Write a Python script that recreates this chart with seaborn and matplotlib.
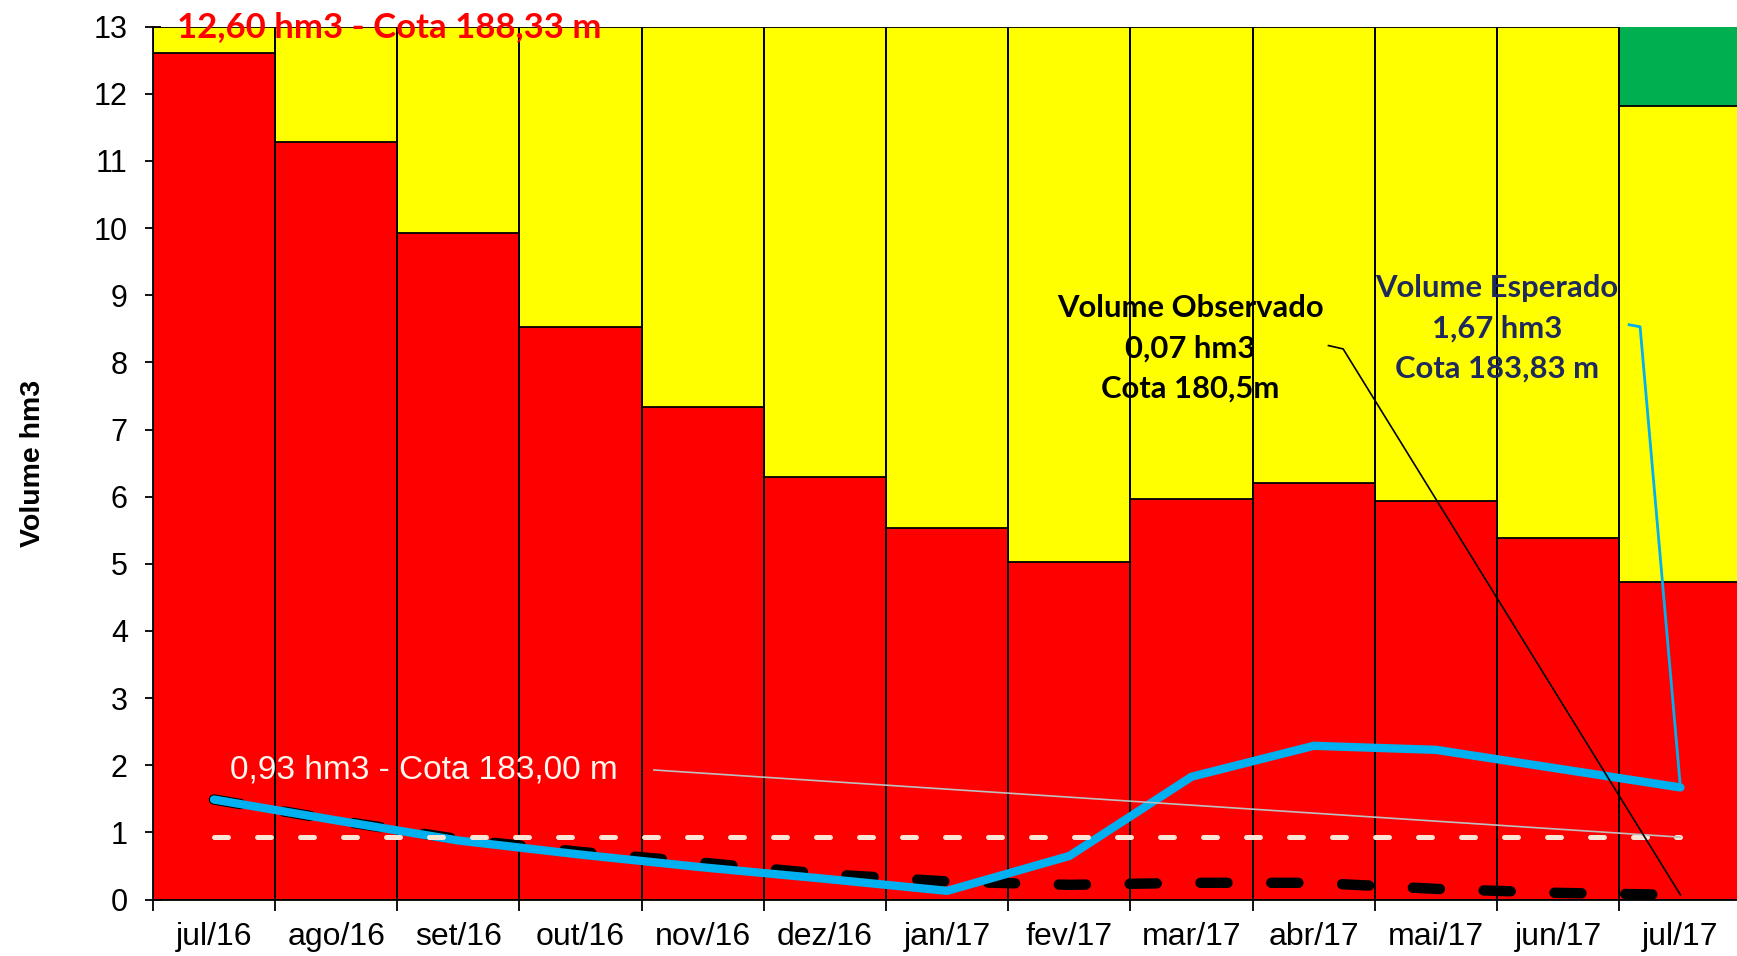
import numpy as np
import matplotlib
matplotlib.use('Agg')
import matplotlib.pyplot as plt
import seaborn as sns

# dados
meses = ['jul/16', 'ago/16', 'set/16', 'out/16', 'nov/16', 'dez/16', 'jan/17',
         'fev/17', 'mar/17', 'abr/17', 'mai/17', 'jun/17', 'jul/17']
faixa_vermelha = [12.60, 11.28, 9.92, 8.52, 7.34, 6.30, 5.54, 5.03, 5.97, 6.21, 5.94, 5.39, 4.73]
faixa_amarela = [13, 13, 13, 13, 13, 13, 13, 13, 13, 13, 13, 13, 11.82]
faixa_verde = [13, 13, 13, 13, 13, 13, 13, 13, 13, 13, 13, 13, 13]
vol_esperado = [1.49, 1.18, 0.88, 0.67, 0.48, 0.31, 0.13, 0.65, 1.83, 2.29, 2.23, 1.95, 1.67]
vol_observado = [1.49, 1.18, 0.90, 0.71, 0.55, 0.38, 0.27, 0.22, 0.25, 0.25, 0.16, 0.10, 0.07]
vol_minimo = 0.93

plt.rcParams['font.family'] = ['Liberation Sans', 'DejaVu Sans']
titulo_font = ['Lato', 'DejaVu Sans']

fig = plt.figure(figsize=(17.37, 9.56), dpi=100)
ax = fig.add_axes([0.088, 0.059, 0.9146, 0.9132])

n = len(meses)
pos = np.arange(n)

sns.barplot(x=meses, y=faixa_verde, color='#00B050', saturation=1, width=1,
            errorbar=None, linewidth=0, ax=ax, zorder=1)
sns.barplot(x=meses, y=faixa_amarela, color='#FFFF00', saturation=1, width=1,
            errorbar=None, linewidth=1.3, edgecolor='black', ax=ax, zorder=1)
sns.barplot(x=meses, y=faixa_vermelha, color='#FF0000', saturation=1, width=1,
            errorbar=None, linewidth=1.3, edgecolor='black', ax=ax, zorder=2)

bordas = np.arange(n + 1) - 0.5
ax.vlines(bordas, 0, max(faixa_verde), color='black', lw=1.3, zorder=2)

sns.lineplot(x=pos, y=vol_observado, color='black', lw=7.5, ax=ax,
             linestyle=(0, (2.6, 4.2)), dash_capstyle='round', zorder=3)
sns.lineplot(x=pos, y=vol_esperado, color='#00B0F0', lw=6, ax=ax,
             solid_capstyle='round', zorder=4)
ax.hlines(vol_minimo, pos[0], pos[-1], color='#FBE5D6', lw=3.6,
          linestyles=[(0, (2.8, 5.8))], capstyle='round', zorder=5)

# textos e linhas de chamada
ax.text(-0.30, 13.0, '12,60 hm3 - Cota 188,33 m', color='#FF0000', fontsize=25,
        fontweight='bold', family=titulo_font, ha='left', va='center', zorder=7, clip_on=False)
ax.text(0.13, 1.93, '0,93 hm3 - Cota 183,00 m', color='#FFF8F0', fontsize=24,
        ha='left', va='center', zorder=7)
ax.plot([3.60, pos[-1]], [1.93, vol_minimo], color='#BFBFBF', lw=1.2, zorder=6)

ax.text(7.99, 8.21, 'Volume Observado\n0,07 hm3\nCota 180,5m', color='black', fontsize=22.3,
        fontweight='bold', family=titulo_font, ha='center', va='center',
        linespacing=1.53, zorder=7)
ax.plot([9.12, 9.24, pos[-1]], [8.25, 8.20, vol_observado[-1]], color='black', lw=1.2, zorder=6)

ax.text(10.50, 8.51, 'Volume Esperado\n1,67 hm3\nCota 183,83 m', color='#1F2A5C', fontsize=22.3,
        fontweight='bold', family=titulo_font, ha='center', va='center',
        linespacing=1.53, zorder=7)
ax.plot([11.58, 11.67, pos[-1]], [8.56, 8.53, vol_esperado[-1]], color='#00B0F0', lw=2, zorder=6)

# eixos
ax.set_xlim(-0.5, n - 0.5)
ax.set_ylim(0, 13)
ax.set_yticks(range(0, 14))
ax.set_xticks(pos)
ax.set_xticklabels(meses)
ax.set_xticks(bordas, minor=True)
ax.tick_params(axis='x', which='major', length=0, pad=16, labelsize=23)
ax.tick_params(axis='x', which='minor', length=8, width=1.3, direction='out')
ax.tick_params(axis='y', length=12, width=1.3, direction='inout', pad=12, labelsize=22)
ax.set_xlabel('')
ax.set_ylabel('Volume hm3', fontsize=20.5, fontweight='bold')
ax.yaxis.set_label_coords(-0.067, 0.5)

for s in ['top', 'right']:
    ax.spines[s].set_visible(False)
for s in ['left', 'bottom']:
    ax.spines[s].set_linewidth(1.3)
    ax.spines[s].set_color('black')
    ax.spines[s].set_zorder(8)

fig.savefig('out.png', dpi=100)
